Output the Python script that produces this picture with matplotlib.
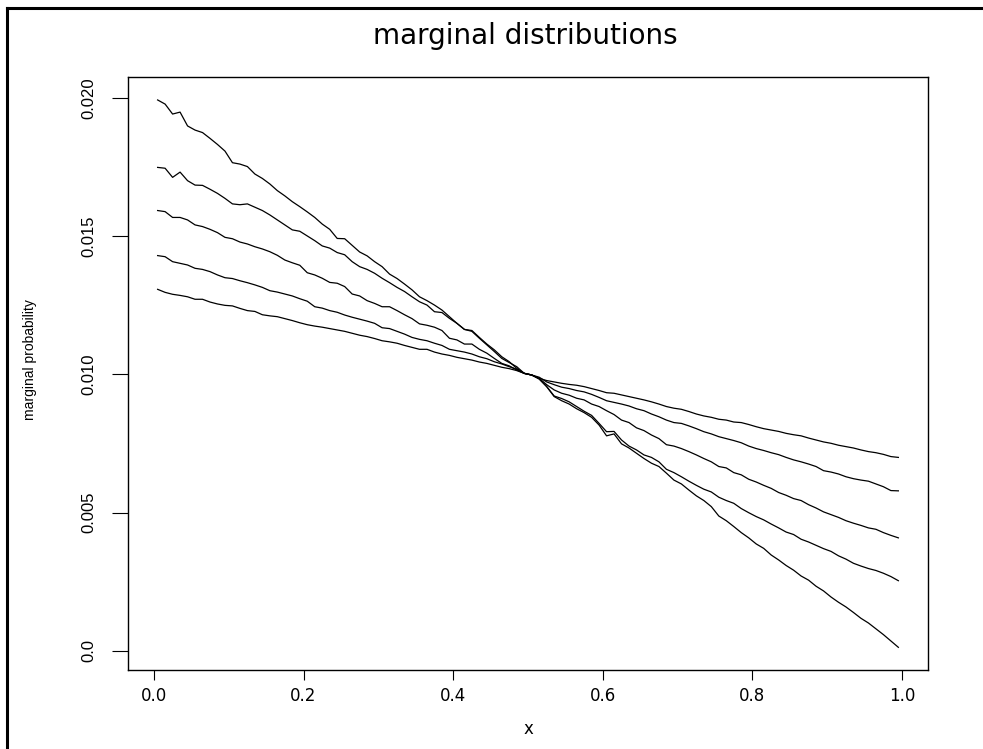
import matplotlib
matplotlib.use("Agg")
import matplotlib.pyplot as plt
import numpy as np
from matplotlib.lines import Line2D

# x grid: 100 evaluation points between 0 and 1
x_grid = np.linspace(0.005, 0.995, 100)

# five marginal curves (steepest first)
marg_a = [0.01993, 0.01978, 0.01942, 0.01949, 0.01899, 0.01884, 0.01875, 0.01854, 0.01832, 0.01808,
          0.01766, 0.01761, 0.01752, 0.01725, 0.01709, 0.01689, 0.01665, 0.01646, 0.01625, 0.01607,
          0.01588, 0.01568, 0.01544, 0.01525, 0.01492, 0.01491, 0.01467, 0.01443, 0.01429, 0.01408,
          0.01390, 0.01363, 0.01347, 0.01327, 0.01306, 0.01281, 0.01267, 0.01251, 0.01233, 0.01209,
          0.01185, 0.01163, 0.01156, 0.01131, 0.01107, 0.01083, 0.01058, 0.01043, 0.01028, 0.01004,
          0.00998, 0.00983, 0.00956, 0.00920, 0.00905, 0.00893, 0.00876, 0.00862, 0.00845, 0.00817,
          0.00778, 0.00785, 0.00749, 0.00734, 0.00715, 0.00696, 0.00679, 0.00667, 0.00643, 0.00618,
          0.00604, 0.00582, 0.00561, 0.00544, 0.00522, 0.00488, 0.00471, 0.00450, 0.00428, 0.00409,
          0.00387, 0.00371, 0.00347, 0.00329, 0.00309, 0.00292, 0.00271, 0.00256, 0.00234, 0.00217,
          0.00195, 0.00176, 0.00159, 0.00139, 0.00118, 0.00101, 0.00080, 0.00059, 0.00036, 0.00013]
marg_b = [0.01749, 0.01746, 0.01713, 0.01732, 0.01701, 0.01685, 0.01684, 0.01670, 0.01655, 0.01637,
          0.01617, 0.01614, 0.01617, 0.01605, 0.01593, 0.01577, 0.01559, 0.01541, 0.01523, 0.01518,
          0.01501, 0.01484, 0.01465, 0.01457, 0.01441, 0.01433, 0.01408, 0.01390, 0.01380, 0.01366,
          0.01348, 0.01332, 0.01315, 0.01300, 0.01281, 0.01263, 0.01251, 0.01227, 0.01224, 0.01203,
          0.01185, 0.01163, 0.01159, 0.01134, 0.01110, 0.01089, 0.01064, 0.01046, 0.01022, 0.01004,
          0.00998, 0.00985, 0.00956, 0.00922, 0.00913, 0.00901, 0.00884, 0.00867, 0.00852, 0.00823,
          0.00793, 0.00794, 0.00763, 0.00741, 0.00727, 0.00709, 0.00700, 0.00684, 0.00657, 0.00645,
          0.00630, 0.00614, 0.00599, 0.00585, 0.00575, 0.00556, 0.00544, 0.00534, 0.00515, 0.00500,
          0.00486, 0.00474, 0.00459, 0.00445, 0.00430, 0.00421, 0.00404, 0.00394, 0.00382, 0.00370,
          0.00360, 0.00344, 0.00332, 0.00317, 0.00307, 0.00298, 0.00291, 0.00281, 0.00269, 0.00254]
marg_c = [0.01593, 0.01589, 0.01568, 0.01568, 0.01559, 0.01541, 0.01535, 0.01525, 0.01513, 0.01496,
          0.01491, 0.01479, 0.01472, 0.01462, 0.01454, 0.01444, 0.01431, 0.01414, 0.01404, 0.01395,
          0.01368, 0.01360, 0.01348, 0.01333, 0.01330, 0.01318, 0.01291, 0.01284, 0.01267, 0.01257,
          0.01245, 0.01245, 0.01231, 0.01216, 0.01202, 0.01183, 0.01178, 0.01171, 0.01159, 0.01131,
          0.01125, 0.01110, 0.01110, 0.01091, 0.01077, 0.01058, 0.01040, 0.01031, 0.01016, 0.01004,
          0.00998, 0.00986, 0.00963, 0.00944, 0.00932, 0.00925, 0.00914, 0.00908, 0.00893, 0.00884,
          0.00869, 0.00855, 0.00835, 0.00826, 0.00807, 0.00797, 0.00781, 0.00768, 0.00746, 0.00741,
          0.00732, 0.00721, 0.00709, 0.00696, 0.00684, 0.00667, 0.00662, 0.00645, 0.00637, 0.00621,
          0.00611, 0.00599, 0.00588, 0.00573, 0.00563, 0.00551, 0.00544, 0.00529, 0.00517, 0.00503,
          0.00493, 0.00483, 0.00471, 0.00462, 0.00454, 0.00445, 0.00440, 0.00428, 0.00418, 0.00409]
marg_d = [0.01430, 0.01426, 0.01408, 0.01402, 0.01396, 0.01384, 0.01380, 0.01372, 0.01360, 0.01350,
          0.01347, 0.01339, 0.01332, 0.01324, 0.01315, 0.01303, 0.01298, 0.01291, 0.01284, 0.01274,
          0.01265, 0.01245, 0.01240, 0.01231, 0.01225, 0.01215, 0.01207, 0.01200, 0.01193, 0.01185,
          0.01169, 0.01166, 0.01156, 0.01146, 0.01134, 0.01127, 0.01122, 0.01113, 0.01105, 0.01091,
          0.01086, 0.01081, 0.01074, 0.01064, 0.01057, 0.01046, 0.01038, 0.01028, 0.01019, 0.01004,
          0.00998, 0.00990, 0.00973, 0.00963, 0.00954, 0.00949, 0.00942, 0.00937, 0.00928, 0.00917,
          0.00905, 0.00899, 0.00893, 0.00886, 0.00876, 0.00869, 0.00857, 0.00847, 0.00835, 0.00826,
          0.00823, 0.00814, 0.00804, 0.00793, 0.00785, 0.00775, 0.00768, 0.00761, 0.00753, 0.00741,
          0.00732, 0.00725, 0.00717, 0.00710, 0.00700, 0.00691, 0.00684, 0.00676, 0.00667, 0.00652,
          0.00647, 0.00640, 0.00630, 0.00623, 0.00618, 0.00614, 0.00604, 0.00594, 0.00580, 0.00579]
marg_e = [0.01308, 0.01297, 0.01290, 0.01286, 0.01281, 0.01272, 0.01272, 0.01262, 0.01255, 0.01250,
          0.01248, 0.01239, 0.01231, 0.01228, 0.01216, 0.01212, 0.01209, 0.01202, 0.01195, 0.01187,
          0.01180, 0.01175, 0.01171, 0.01166, 0.01161, 0.01156, 0.01149, 0.01142, 0.01137, 0.01130,
          0.01122, 0.01118, 0.01113, 0.01105, 0.01098, 0.01091, 0.01091, 0.01081, 0.01074, 0.01069,
          0.01062, 0.01057, 0.01052, 0.01045, 0.01040, 0.01033, 0.01026, 0.01021, 0.01014, 0.01004,
          0.00998, 0.00986, 0.00978, 0.00973, 0.00968, 0.00964, 0.00961, 0.00956, 0.00949, 0.00942,
          0.00934, 0.00932, 0.00926, 0.00920, 0.00914, 0.00908, 0.00901, 0.00893, 0.00884, 0.00878,
          0.00874, 0.00866, 0.00857, 0.00850, 0.00845, 0.00838, 0.00835, 0.00828, 0.00826, 0.00819,
          0.00811, 0.00804, 0.00799, 0.00794, 0.00787, 0.00782, 0.00778, 0.00770, 0.00763, 0.00756,
          0.00751, 0.00744, 0.00739, 0.00734, 0.00727, 0.00721, 0.00717, 0.00711, 0.00703, 0.00700]

x_ticks = [0.0, 0.2, 0.4, 0.6, 0.8, 1.0]
x_tick_labels = ["0.0", "0.2", "0.4", "0.6", "0.8", "1.0"]
y_ticks = [0.0, 0.005, 0.010, 0.015, 0.020]
y_tick_labels = ["0.0", "0.005", "0.010", "0.015", "0.020"]

W, H = 983, 749
wide_font = ["DejaVu Sans"]
narrow_font = ["Liberation Sans Narrow", "Liberation Sans", "DejaVu Sans"]

fig = plt.figure(figsize=(W / 100, H / 100), dpi=100)
ax = fig.add_axes([128 / W, 1 - 670 / H, 800 / W, 593 / H])

for series in (marg_a, marg_b, marg_c, marg_d, marg_e):
    ax.plot(x_grid, series, color="black", lw=0.9)

ax.set_xlim(-0.0346, 1.0346)
ax.set_ylim(-0.00069, 0.02076)

for spine in ax.spines.values():
    spine.set_linewidth(1.0)
    spine.set_color("black")

ax.set_xticks(x_ticks)
ax.set_xticklabels(x_tick_labels, family=wide_font, fontsize=12)
ax.set_yticks(y_ticks)
ax.set_yticklabels(y_tick_labels, family=narrow_font, fontsize=12, rotation=90, va="center")
ax.tick_params(axis="x", length=7, width=0.8, pad=5)
ax.tick_params(axis="y", length=11.5, width=0.8, pad=11)

fig.text(525 / W, 1 - 36 / H, "marginal distributions", family=wide_font, fontsize=20,
         ha="center", va="center")
fig.text(30 / W, 1 - 360 / H, "marginal probability", family=narrow_font, fontsize=10,
         rotation=90, ha="center", va="center")
fig.text(528 / W, 1 - 729 / H, "x", family=wide_font, fontsize=12, ha="center", va="center")

# outer frame (left and top edges only)
fig.add_artist(Line2D([7 / W, 7 / W], [0, 1 - 8 / H], transform=fig.transFigure,
                      color="black", lw=2.2))
fig.add_artist(Line2D([7 / W, 1], [1 - 8 / H, 1 - 8 / H], transform=fig.transFigure,
                      color="black", lw=2.2))

fig.savefig("out.png", dpi=100)
